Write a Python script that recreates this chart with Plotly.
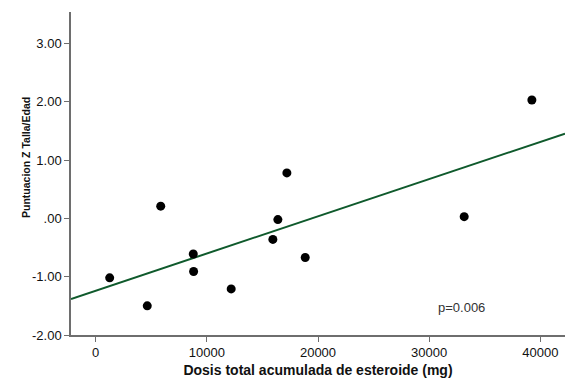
import numpy as np
import plotly.graph_objects as go

# Data
dose_mg = [1260, 4640, 5850, 8780, 8810, 12190, 15940, 16390, 17200, 18850, 33150, 39240]
z_score = [-1.02, -1.50, 0.21, -0.61, -0.91, -1.21, -0.36, -0.02, 0.78, -0.67, 0.03, 2.03]

y_tick_vals = [-2, -1, 0, 1, 2, 3]
y_tick_text = ["-2.00", "-1.00", ".00", "1.00", "2.00", "3.00"]
x_tick_vals = [0, 10000, 20000, 30000, 40000]
x_tick_text = ["0", "10000", "20000", "30000", "40000"]

p_label = "p=0.006"
x_title = "Dosis total acumulada de esteroide (mg)"
y_title = "Puntuacion Z Talla/Edad"

X_RANGE = [-2220, 42220]
Y_RANGE = [-2, 3.54]

# Linear fit
slope, intercept = np.polyfit(dose_mg, z_score, 1)
fit_x = np.array(X_RANGE, dtype=float)
fit_y = slope * fit_x + intercept

FONT = "Liberation Sans, Arial, sans-serif"
AXIS_COLOR = "#6e6e6e"

fig = go.Figure()
fig.add_trace(go.Scatter(
    x=fit_x, y=fit_y, mode="lines",
    line=dict(color="#0f5a2c", width=2),
    hoverinfo="skip", showlegend=False,
))
fig.add_trace(go.Scatter(
    x=dose_mg, y=z_score, mode="markers",
    marker=dict(color="black", size=9, line=dict(width=0)),
    showlegend=False,
))

fig.update_layout(
    width=565, height=382,
    margin=dict(l=71, r=0, t=12, b=47),
    paper_bgcolor="white", plot_bgcolor="white",
    font=dict(family=FONT, size=13, color="#111111"),
    xaxis=dict(
        range=X_RANGE, showgrid=False, zeroline=False,
        showline=True, linecolor=AXIS_COLOR, linewidth=1.5,
        ticks="outside", ticklen=5, tickcolor=AXIS_COLOR, tickwidth=1,
        tickvals=x_tick_vals, ticktext=x_tick_text,
        tickfont=dict(size=13, color="#111111"),
        title=dict(text="<b>" + x_title + "</b>", font=dict(size=14, color="#111111"), standoff=6),
    ),
    yaxis=dict(
        range=Y_RANGE, showgrid=False, zeroline=False,
        showline=True, linecolor=AXIS_COLOR, linewidth=1.5,
        ticks="outside", ticklen=5, tickcolor=AXIS_COLOR, tickwidth=1,
        tickvals=y_tick_vals, ticktext=y_tick_text,
        tickfont=dict(size=13, color="#111111"),
    ),
    annotations=[
        dict(
            text="<b>" + y_title + "</b>", textangle=-90,
            xref="paper", yref="paper", x=0, y=0.548,
            xanchor="center", yanchor="middle", xshift=-45,
            showarrow=False,
            font=dict(family=FONT, size=10.5, color="#111111"),
        ),
        dict(
            text=p_label, xref="x", yref="y", x=32900, y=-1.53,
            xanchor="center", yanchor="middle", showarrow=False,
            font=dict(size=13, color="#333333"),
        ),
    ],
)

fig.write_html("out.html")
